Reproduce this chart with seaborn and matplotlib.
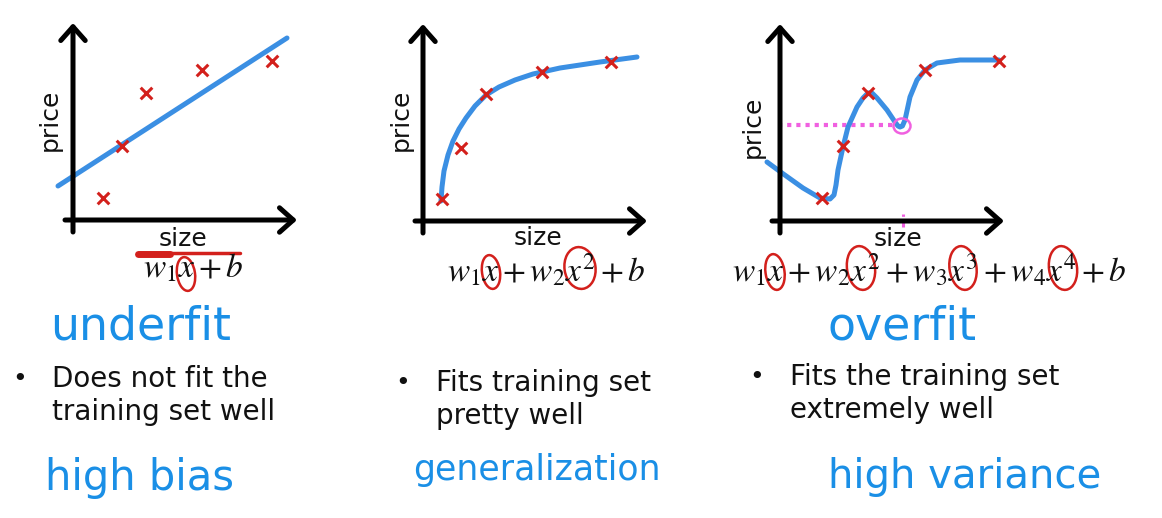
import numpy as np
import pandas as pd
import matplotlib.pyplot as plt
import seaborn as sns
from matplotlib.patches import Ellipse

sns.set_theme(style="white")
plt.rcParams['font.family'] = ['DejaVu Sans']
plt.rcParams['mathtext.fontset'] = 'stix'
plt.rcParams['text.color'] = '#111111'

W, H = 1162, 518
BLUE = '#3b8fe3'
RED = '#d3201c'
PINK = '#f060e0'
HAND = '#1a8fe6'

# panel 1: linear fit (size / price, arbitrary units)
p1_x = [1.5, 2.45, 3.65, 6.45, 9.95]
p1_y = [1.1, 3.7, 6.35, 7.5, 7.95]
line1_x = [-0.75, 10.7]
line1_y = [1.7, 9.1]

# panel 2: quadratic fit
p2_x = [0.95, 1.9, 3.15, 5.95, 9.4]
p2_y = [1.1, 3.65, 6.35, 7.45, 7.95]
curve2_x = [0.9, 0.95, 1.05, 1.25, 1.5, 1.8, 2.15, 2.6, 3.15, 3.8, 4.6, 5.5, 6.85, 8.85, 10.7]
curve2_y = [1.0, 1.7, 2.5, 3.3, 4.0, 4.6, 5.15, 5.75, 6.3, 6.7, 7.05, 7.35, 7.65, 7.95, 8.2]

# panel 3: 4th order fit
p3_x = [2.1, 3.15, 4.4, 7.25, 10.95]
p3_y = [1.15, 3.75, 6.4, 7.55, 8.0]
curve3_x = [-0.65, 0.1, 1.15, 2.0, 2.5, 2.7, 2.8, 2.9, 3.15, 3.4, 3.85, 4.15, 4.4,
            4.6, 4.85, 5.35, 5.75, 5.9, 6.0, 6.12, 6.25, 6.5, 6.85, 7.25, 7.85, 9.0, 10.95]
curve3_y = [2.95, 2.4, 1.65, 1.15, 1.1, 1.3, 1.8, 2.55, 3.7, 4.7, 5.7, 6.15, 6.4,
            6.4, 6.15, 5.55, 4.95, 4.75, 4.7, 4.75, 5.05, 6.2, 7.05, 7.55, 7.9, 8.05, 8.05]
pred_x, pred_y = 6.0, 4.8

formulas = [r'$w_1x + b$', r'$w_1x + w_2x^2 + b$',
            r'$w_1x + w_2x^2 + w_3x^3 + w_4x^4 + b$']
fit_labels = ['underfit', 'overfit']
bullets = [['Does not fit the', 'training set well'],
           ['Fits training set', 'pretty well'],
           ['Fits the training set', 'extremely well']]
bias_labels = ['high bias', 'generalization', 'high variance']

fig = plt.figure(figsize=(W / 100, H / 100), dpi=100)
fig.patch.set_facecolor('white')

# background axes in pixel coordinates for text and hand-drawn marks
bg = fig.add_axes([0, 0, 1, 1])
bg.set_xlim(0, W)
bg.set_ylim(H, 0)
bg.axis('off')


def panel(ox, oy, xlim=(-1.5, 12.0), ylim=(-1.0, 10.5), s=20):
    left = (ox + xlim[0] * s) / W
    bottom = (H - (oy - ylim[0] * s)) / H
    ax = fig.add_axes([left, bottom, (xlim[1] - xlim[0]) * s / W,
                       (ylim[1] - ylim[0]) * s / H])
    ax.set_xlim(*xlim)
    ax.set_ylim(*ylim)
    ax.axis('off')
    arrow = dict(arrowstyle='->, head_length=0.45, head_width=0.4', lw=3.6,
                 color='black', mutation_scale=22, shrinkA=0, shrinkB=0)
    ax.annotate('', xy=(11.2, 0), xytext=(-0.4, 0), arrowprops=arrow)
    ax.annotate('', xy=(0, 9.85), xytext=(0, -0.6), arrowprops=arrow)
    return ax


def crosses(ax, xs, ys):
    sns.scatterplot(x=xs, y=ys, ax=ax, marker='x', s=70, color=RED,
                    linewidth=2.2, zorder=5, legend=False)


ax1 = panel(73, 220)
sns.lineplot(x=line1_x, y=line1_y, ax=ax1, color=BLUE, lw=3.6, sort=False)
crosses(ax1, p1_x, p1_y)

ax2 = panel(423, 221)
sns.lineplot(x=curve2_x, y=curve2_y, ax=ax2, color=BLUE, lw=3.6, sort=False,
             estimator=None)
crosses(ax2, p2_x, p2_y)

ax3 = panel(780, 221)
ax3.plot([-0.1, pred_x - 0.35], [pred_y, pred_y], color=PINK, lw=3,
         linestyle=(0, (1, 1.2)))
sns.lineplot(x=curve3_x, y=curve3_y, ax=ax3, color=BLUE, lw=3.6, sort=False,
             estimator=None)
crosses(ax3, p3_x, p3_y)
ax3.add_patch(Ellipse((pred_x + 0.1, pred_y - 0.05), 0.85, 0.75, fill=False,
                      edgecolor=PINK, lw=1.8, zorder=6))
ax3.plot([pred_x + 0.15, pred_x + 0.15], [-0.3, 0.35], color=PINK, lw=2.2,
         linestyle=(0, (2, 1.5)), zorder=0)

# axis labels
for px, py in [(50, 120), (401, 120), (753, 127)]:
    bg.text(px, py, 'price', rotation=90, ha='center', va='center', fontsize=18)
for px, py in [(183, 239), (538, 238), (898, 239)]:
    bg.text(px, py, 'size', ha='center', va='center', fontsize=18)

# formulas
for (px, py), f in zip([(193, 268), (546, 270), (929, 270)], formulas):
    bg.text(px, py, f, ha='center', va='center', fontsize=24)

# red hand marks
bg.plot([138, 240], [253, 253], color=RED, lw=2.5, solid_capstyle='round')
bg.plot([138, 170], [254, 254], color=RED, lw=5, solid_capstyle='round')
for (cx, cy, w, h) in [(186, 274, 18, 34), (491, 272, 18, 34), (580, 268, 31, 42),
                       (775, 272, 19, 36), (861, 268, 28, 44), (963, 268, 27, 44),
                       (1063, 268, 28, 44)]:
    bg.add_patch(Ellipse((cx, cy), w, h, angle=-8, fill=False,
                         edgecolor=RED, lw=1.8))

# fit labels
for (px, fs), lab in zip([(50, 33), (828, 33)], fit_labels):
    bg.text(px, 327, lab, ha='left', va='center', fontsize=fs, color=HAND)

# bullets
for (bx, tx, ty), lines in zip([(20, 52, 379), (403, 436, 383), (757, 790, 377)],
                               bullets):
    bg.text(bx, ty, '\u2022', ha='center', va='center', fontsize=18)
    for k, line in enumerate(lines):
        bg.text(tx, ty + 33 * k, line, ha='left', va='center', fontsize=20)

for (px, py, fs), lab in zip([(45, 478, 30), (413, 470, 25), (828, 477, 29)],
                             bias_labels):
    bg.text(px, py, lab, ha='left', va='center', fontsize=fs, color=HAND)

fig.savefig('out.png', dpi=100)
